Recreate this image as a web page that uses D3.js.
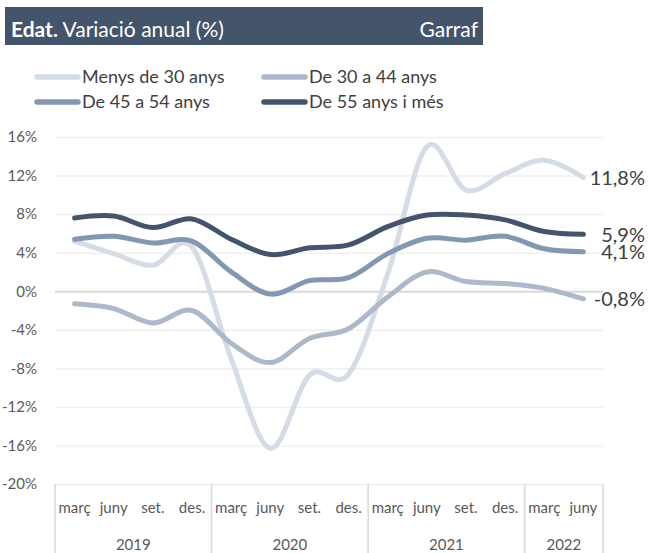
<!DOCTYPE html>
<html>
<head>
<meta charset="utf-8">
<script src="https://cdn.jsdelivr.net/npm/d3@7"></script>
<style>
  body { margin: 0; background: #fff; }
  svg { display: block; font-family: Lato, "Open Sans", sans-serif; }
</style>
</head>
<body>
<svg width="650" height="553"></svg>
<script>
"use strict";

// quarters shown on the axis, with the year each one belongs to
var months = ["març", "juny", "set.", "des.", "març", "juny", "set.", "des.",
              "març", "juny", "set.", "des.", "març", "juny"];
var yearOf = ["2019", "2019", "2019", "2019", "2020", "2020", "2020", "2020",
              "2021", "2021", "2021", "2021", "2022", "2022"];

var yTicks = [16, 12, 8, 4, 0, -4, -8, -12, -16, -20];

// annual change (%) by age group
var menys30 = [5.2, 3.9, 2.7, 4.6, -7.0, -16.3, -8.7, -8.6, 1.8, 15.0, 10.5, 12.2, 13.6, 11.8];
var de30a44 = [-1.3, -1.8, -3.3, -2.0, -5.4, -7.4, -4.9, -3.9, -0.6, 2.0, 1.0, 0.8, 0.3, -0.8];
var de45a54 = [5.4, 5.7, 5.0, 5.2, 2.0, -0.3, 1.1, 1.4, 3.9, 5.5, 5.3, 5.7, 4.4, 4.1];
var de55 = [7.6, 7.8, 6.6, 7.5, 5.4, 3.8, 4.5, 4.8, 6.7, 7.9, 7.9, 7.4, 6.2, 5.9];

var series = [
  {name: "Menys de 30 anys", values: menys30, colour: "#d6dce5"},
  {name: "De 30 a 44 anys", values: de30a44, colour: "#adb9ca"},
  {name: "De 45 a 54 anys", values: de45a54, colour: "#8497b0"},
  {name: "De 55 anys i més", values: de55, colour: "#44546a"}
];

var svg = d3.select("svg");
var plot = {left: 55, right: 603, top: 137, bottom: 484};

var x = d3.scaleBand()
    .domain(d3.range(months.length))
    .range([plot.left, plot.right]);
var y = d3.scaleLinear()
    .domain([-20, 16])
    .range([plot.bottom, plot.top]);

var ca = d3.formatLocale({decimal: ",", thousands: ".", grouping: [3], currency: ["", "€"], minus: "-"});
var fmt = ca.format(".1f");

// title bar
var title = svg.append("g");
title.append("rect")
    .attr("x", 5).attr("y", 7).attr("width", 478).attr("height", 38)
    .attr("fill", "#44546a");
var t = title.append("text")
    .attr("x", 11).attr("y", 37)
    .attr("fill", "#fff").style("font-size", "21px");
t.append("tspan").attr("font-weight", "bold").text("Edat.");
t.append("tspan").text(" Variació anual (%)");
title.append("text")
    .attr("x", 478).attr("y", 37)
    .attr("text-anchor", "end")
    .attr("fill", "#fff").style("font-size", "21px")
    .text("Garraf");

// legend
var legendPos = [[37, 77], [264, 77], [37, 102], [264, 102]];
var legend = svg.append("g").selectAll("g")
    .data(series)
    .enter().append("g")
    .attr("transform", function(d, i) { return "translate(" + legendPos[i][0] + "," + legendPos[i][1] + ")"; });
legend.append("line")
    .attr("x1", 0).attr("x2", 41)
    .attr("stroke", function(d) { return d.colour; })
    .attr("stroke-width", 5.5)
    .attr("stroke-linecap", "round");
legend.append("text")
    .attr("x", 45).attr("dy", "0.36em")
    .attr("fill", "#404040").style("font-size", "18px")
    .text(function(d) { return d.name; });

// y gridlines + labels
var yAxis = d3.axisLeft(y)
    .tickValues(yTicks)
    .tickSize(-(plot.right - plot.left))
    .tickPadding(18)
    .tickFormat(function(d) { return d + "%"; });
var gy = svg.append("g")
    .attr("transform", "translate(" + plot.left + ",0)")
    .call(yAxis);
gy.select(".domain").remove();
gy.selectAll(".tick line")
    .attr("stroke", function(d) { return d === 0 ? "#d9d9d9" : "#f0f0f0"; })
    .attr("stroke-width", function(d) { return d === 0 ? 2 : 1.5; });
gy.selectAll(".tick text")
    .attr("fill", "#595959")
    .style("font-size", "15px")
    .style("font-family", "Lato, sans-serif");

// x axis: month labels, year labels and separators
var xg = svg.append("g");
xg.selectAll("text.month")
    .data(months)
    .enter().append("text")
    .attr("class", "month")
    .attr("x", function(d, i) { return x(i) + x.bandwidth() / 2; })
    .attr("y", 513)
    .attr("text-anchor", "middle")
    .attr("fill", "#595959").style("font-size", "15px")
    .text(function(d) { return d; });

var groups = d3.groups(d3.range(months.length), function(i) { return yearOf[i]; });
groups.forEach(function(g) {
  var first = g[1][0], last = g[1][g[1].length - 1];
  var x0 = x(first), x1 = x(last) + x.bandwidth();
  xg.append("text")
      .attr("x", (x0 + x1) / 2).attr("y", 550)
      .attr("text-anchor", "middle")
      .attr("fill", "#595959").style("font-size", "15px")
      .text(g[0]);
  xg.append("line")
      .attr("x1", x0).attr("x2", x0)
      .attr("y1", plot.bottom).attr("y2", 553)
      .attr("stroke", "#d9d9d9").attr("stroke-width", 1.5);
  if (last === months.length - 1) {
    xg.append("line")
        .attr("x1", x1).attr("x2", x1)
        .attr("y1", plot.bottom).attr("y2", 553)
        .attr("stroke", "#d9d9d9").attr("stroke-width", 1.5);
  }
});

// lines
var line = d3.line()
    .x(function(d, i) { return x(i) + x.bandwidth() / 2; })
    .y(function(d) { return y(d); })
    .curve(d3.curveCatmullRom.alpha(0));

svg.append("g").selectAll("path")
    .data(series)
    .enter().append("path")
    .attr("d", function(d) { return line(d.values); })
    .attr("fill", "none")
    .attr("stroke", function(d) { return d.colour; })
    .attr("stroke-width", 5)
    .attr("stroke-linecap", "round")
    .attr("stroke-linejoin", "round");

// end labels
svg.append("g").selectAll("text")
    .data(series)
    .enter().append("text")
    .attr("x", 645)
    .attr("y", function(d) { return y(d.values[d.values.length - 1]); })
    .attr("dy", "0.37em")
    .attr("text-anchor", "end")
    .attr("fill", "#404040").style("font-size", "20px")
    .text(function(d) { return fmt(d.values[d.values.length - 1]) + "%"; });
</script>
</body>
</html>
